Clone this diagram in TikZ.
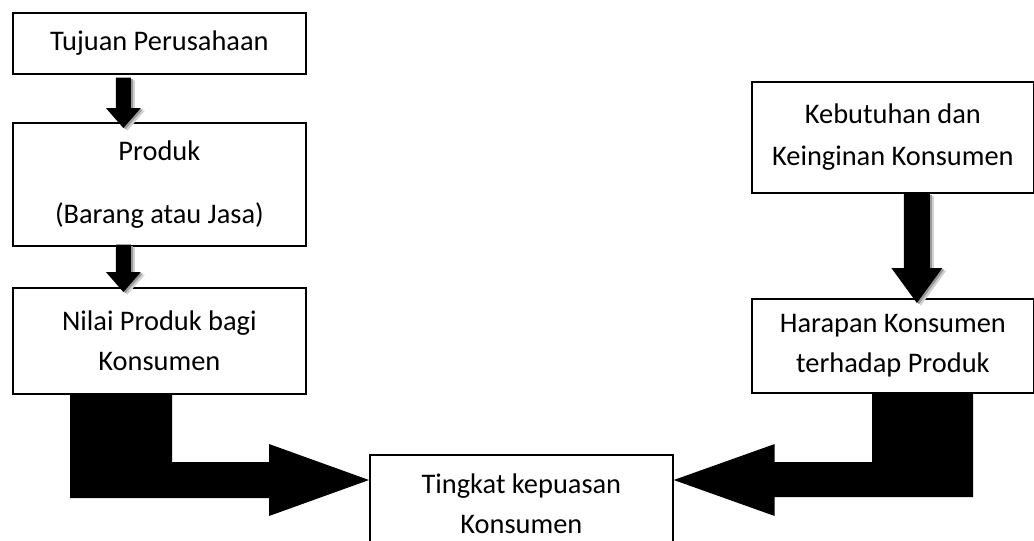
\documentclass[tikz,border=0pt]{standalone}
\usepackage{fontspec}
\setmainfont{Carlito}
\usetikzlibrary{calc}
\tikzset{
  box/.style={draw, line width=1.3pt, rectangle, align=center,
    font=\fontsize{21.3pt}{30pt}\selectfont, inner sep=0pt, anchor=north west},
  arrowfill/.style={fill=black},
  shadowfar/.style={fill=black!18},
  shadownear/.style={fill=black!40},
}
% #1 style, #2 start, #3 end (tip), #4 shaft half width, #5 head half width, #6 head length
\newcommand\blockdn[6]{%
  \path[#1] ($(#2)+(-#4,0)$) -- ($(#2)+(#4,0)$) -- ($(#3)+(#4,-#6)$) -- ($(#3)+(#5,-#6)$)
    -- (#3) -- ($(#3)+(-#5,-#6)$) -- ($(#3)+(-#4,-#6)$) -- cycle;}
\begin{document}
\begin{tikzpicture}[x=0.75pt,y=-0.75pt]
\useasboundingbox (0,0) rectangle (1034,540);
\clip (0,0) rectangle (1034,540);

\node[box, minimum width=219.75pt, minimum height=45.75pt] (t1) at (12,12) {Tujuan Perusahaan};
\node[box, minimum width=219.75pt, minimum height=92.25pt] (t2) at (12,122) {Produk\\[17.25pt](Barang atau Jasa)};
\node[box, minimum width=219.75pt, minimum height=79.5pt] (t3) at (12,287) {Nilai Produk bagi\\Konsumen};
\node[box, minimum width=211.5pt, minimum height=83.25pt] (t4) at (751,81) {Kebutuhan dan\\[1.5pt]Keinginan Konsumen};
\node[box, minimum width=211.5pt, minimum height=70.5pt] (t5) at (751,298) {Harapan Konsumen\\terhadap Produk};
\node[box, minimum width=227.25pt, inner ysep=14pt] (t6) at (369,454) {Tingkat kepuasan\\Konsumen};

\coordinate (a1s) at ($(t1.south)+(-36,3)$);
\coordinate (a1e) at ($(t2.north)+(-36,6)$);
\coordinate (a2s) at ($(t2.south)+(-36,-2)$);
\coordinate (a2e) at ($(t3.north)+(-36,5)$);
\coordinate (a3s) at ($(t4.south)+(24,0)$);
\coordinate (a3e) at ($(t5.north)+(24,5)$);

\begin{scope}[transform canvas={shift={(3pt,-2pt)}}]
  \blockdn{shadowfar}{a1s}{a1e}{7.5}{17.5}{20}
  \blockdn{shadowfar}{a2s}{a2e}{7.5}{17.5}{20}
  \blockdn{shadowfar}{a3s}{a3e}{13}{25.5}{35}
\end{scope}
\begin{scope}[transform canvas={shift={(1.5pt,-1pt)}}]
  \blockdn{shadownear}{a1s}{a1e}{7.5}{17.5}{20}
  \blockdn{shadownear}{a2s}{a2e}{7.5}{17.5}{20}
  \blockdn{shadownear}{a3s}{a3e}{13}{25.5}{35}
\end{scope}
\blockdn{arrowfill}{a1s}{a1e}{7.5}{17.5}{20}
\blockdn{arrowfill}{a2s}{a2e}{7.5}{17.5}{20}
\blockdn{arrowfill}{a3s}{a3e}{13}{25.5}{35}

\coordinate (tipL) at ($(t6.north west)+(0,26)$);
\coordinate (tipR) at ($(t6.north east)+(0,26)$);
\coordinate (la) at ($(t3.south west)+(58,0)$);
\coordinate (lb) at ($(t3.south west)+(160,0)$);
\coordinate (ra) at ($(t5.south west)+(222,0)$);
\coordinate (rb) at ($(t5.south west)+(121,0)$);

\path[arrowfill] (la) -- (lb) |- ($(tipL)+(-100,-18)$) -- ($(tipL)+(-100,-36)$) -- (tipL)
  -- ($(tipL)+(-100,36)$) -- ($(tipL)+(-100,18)$) -| (la) -- cycle;
\path[arrowfill] (ra) -- (rb) |- ($(tipR)+(101,-18)$) -- ($(tipR)+(101,-36)$) -- (tipR)
  -- ($(tipR)+(101,36)$) -- ($(tipR)+(101,17)$) -| (ra) -- cycle;
\end{tikzpicture}
\end{document}
